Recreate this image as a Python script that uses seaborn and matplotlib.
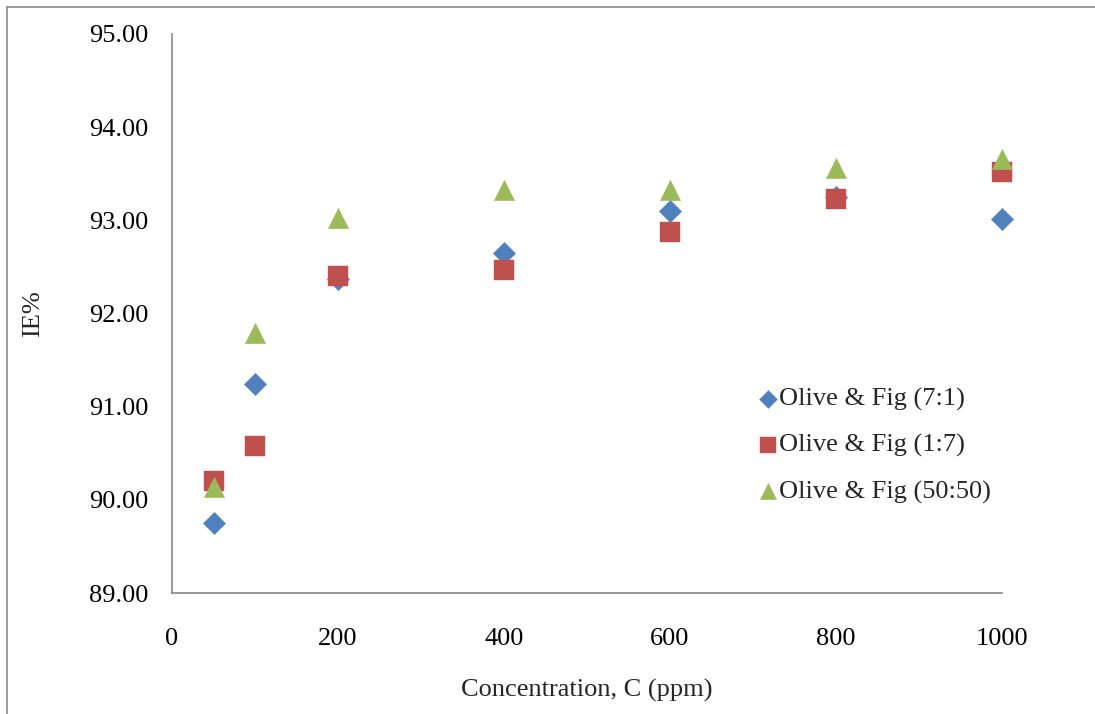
import matplotlib
matplotlib.use("Agg")
import matplotlib.pyplot as plt
import seaborn as sns
import pandas as pd
from matplotlib.lines import Line2D

# ---- data ----
conc = [50, 100, 200, 400, 600, 800, 1000]
ie_7_1 = [89.75, 91.24, 92.37, 92.65, 93.10, 93.25, 93.01]
ie_1_7 = [90.20, 90.58, 92.40, 92.47, 92.87, 93.23, 93.52]
ie_50_50 = [90.14, 91.79, 93.02, 93.33, 93.33, 93.56, 93.66]
series_names = ["Olive & Fig (7:1)", "Olive & Fig (1:7)", "Olive & Fig (50:50)"]
x_ticks = [0, 200, 400, 600, 800, 1000]
y_ticks = [89, 90, 91, 92, 93, 94, 95]

sns.set_theme(style="white")
plt.rcParams['font.family'] = ['Liberation Serif', 'DejaVu Serif']

fig = plt.figure(figsize=(10.95, 7.14), dpi=100)
ax = fig.add_axes([172/1095, 1-593/714, 830/1095, 559/714])

colors = ["#4F81BD", "#C0504D", "#9BBB59"]
markers = ["D", "s", "^"]
sizes = [130, 205, 215]
for vals, name, c, m, s in zip([ie_7_1, ie_1_7, ie_50_50], series_names, colors, markers, sizes):
    df = pd.DataFrame({"C": conc, "IE": vals})
    sns.scatterplot(data=df, x="C", y="IE", ax=ax, color=c, marker=m, s=s,
                    edgecolor=c, linewidth=0.3, label=name, zorder=3, clip_on=False)

ax.set_xlim(0, 1000)
ax.set_ylim(89, 95)
ax.set_xticks(x_ticks)
ax.set_yticks(y_ticks)
ax.set_yticklabels([f"{v:.2f}" for v in y_ticks])
ax.set_xticklabels([str(v) for v in x_ticks])

spine_c = "#878787"
for side in ["top", "right"]:
    ax.spines[side].set_visible(False)
for side in ["left", "bottom"]:
    ax.spines[side].set_color(spine_c)
    ax.spines[side].set_linewidth(1.2)
ax.tick_params(axis="both", which="major", direction="out", length=5, width=1.2,
               color=spine_c, labelsize=19, labelcolor="black")
ax.tick_params(axis="y", pad=12)
ax.tick_params(axis="x", pad=20)
ax.grid(False)

ax.set_xlabel("Concentration, C (ppm)", fontsize=19, labelpad=21)
ax.set_ylabel("IE%", fontsize=19, labelpad=32)

leg = ax.legend(loc="upper left", bbox_to_anchor=(755/1095, 1-387/714),
                bbox_transform=fig.transFigure, frameon=False, fontsize=19,
                handletextpad=-0.1, handlelength=1.0, labelspacing=0.85,
                borderaxespad=0, borderpad=0, markerscale=0.8)

# outer chart border (top & left visible)
fig.add_artist(Line2D([7/1095, 1.01], [1-7/714, 1-7/714], transform=fig.transFigure,
                      color="#8a8a8a", linewidth=1.2))
fig.add_artist(Line2D([7/1095, 7/1095], [-0.01, 1-7/714], transform=fig.transFigure,
                      color="#8a8a8a", linewidth=1.2))

fig.savefig("out.png", dpi=100, facecolor="white")
